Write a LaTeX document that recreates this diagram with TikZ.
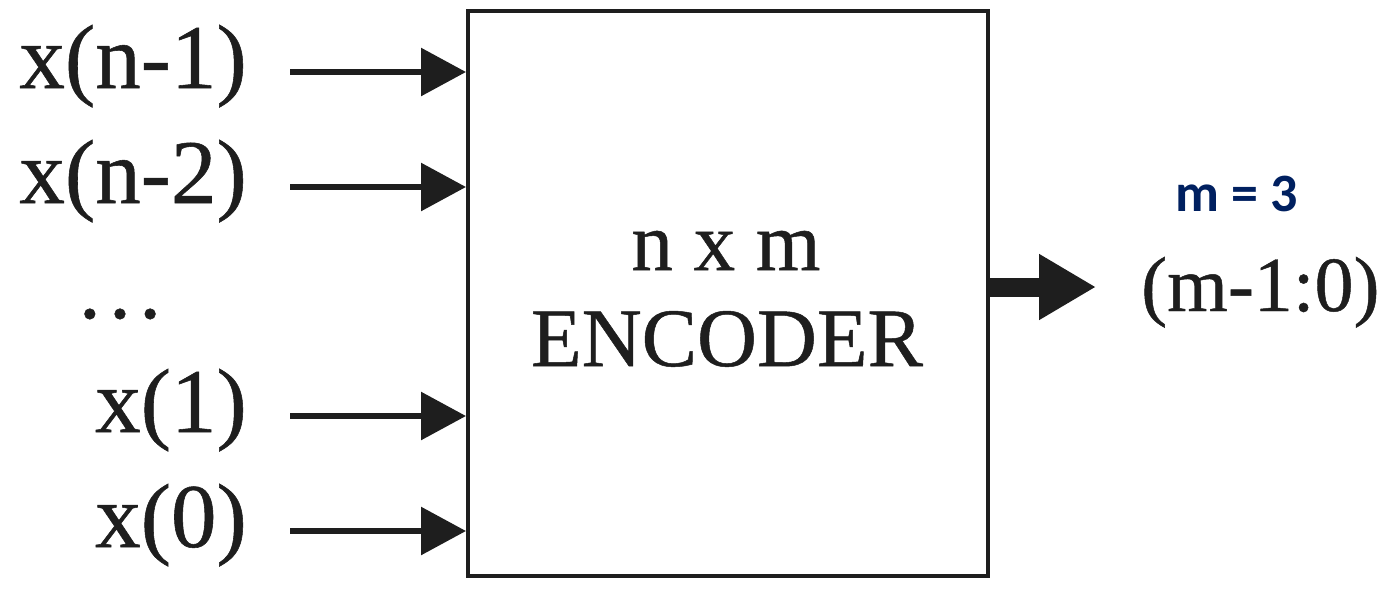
\documentclass[tikz,border=0pt]{standalone}
\usepackage{fontspec}
\setmainfont{Liberation Serif}
\newfontfamily\heavyserif{Liberation Serif}[FakeBold=0.6]
\newfontfamily\carlito{Carlito}
\usetikzlibrary{arrows.meta}
\definecolor{ink}{HTML}{1E1E1E}
\definecolor{navy}{RGB}{0,32,96}
\tikzset{
  inlabel/.style={inner sep=0pt, anchor=base east, text=ink, font=\heavyserif\fontsize{91}{93}\selectfont},
  boxtext/.style={inner sep=0pt, anchor=base, text=ink, font=\heavyserif\fontsize{83}{85}\selectfont},
  inarrow/.style={draw=ink, line width=6pt, -{Triangle[length=45pt,width=47pt]}},
  outarrow/.style={draw=ink, line width=19pt, -{Triangle[length=57pt,width=62pt]}},
  encbox/.style={draw=ink, line width=4pt, minimum width=520pt, minimum height=565pt, inner sep=0pt}
}
\begin{document}
\begin{tikzpicture}[x=1pt,y=-1pt]
\useasboundingbox (0,0) rectangle (1388,606);
\node[encbox] (enc) at (728,293.5) {};
\node[boxtext] (t1) at (726,270) {n x m};
\node[boxtext] (t2) at (727,366) {ENCODER};
\node[inlabel] (l1) at (247,88) {x(n-1)};
\node[inlabel] (l2) at (247,203) {x(n-2)};
\node[inlabel] (l3) at (247,432) {x(1)};
\node[inlabel] (l4) at (247,547) {x(0)};
\node[inner sep=0pt, anchor=base, text=ink, font=\heavyserif\fontsize{90}{92}\selectfont] (dots) at (120,318) {…};
\foreach \n in {l1,l2,l3,l4}
  \draw[inarrow] ([xshift=43pt,yshift=16pt]\n.base east) -- ([yshift=16pt]\n.base east -| enc.west);
\coordinate (outtip) at (1096,287);
\draw[outarrow] (enc.east |- outtip) -- (outtip);
\node[inner sep=0pt, anchor=base west, text=ink, font=\heavyserif\fontsize{78}{80}\selectfont] (out) at (1141,311) {(m-1:0)};
\node[inner sep=0pt, anchor=base, text=navy, font=\carlito\bfseries\fontsize{54}{56}\selectfont] (m3) at (1237,211) {m = 3};
\end{tikzpicture}
\end{document}
